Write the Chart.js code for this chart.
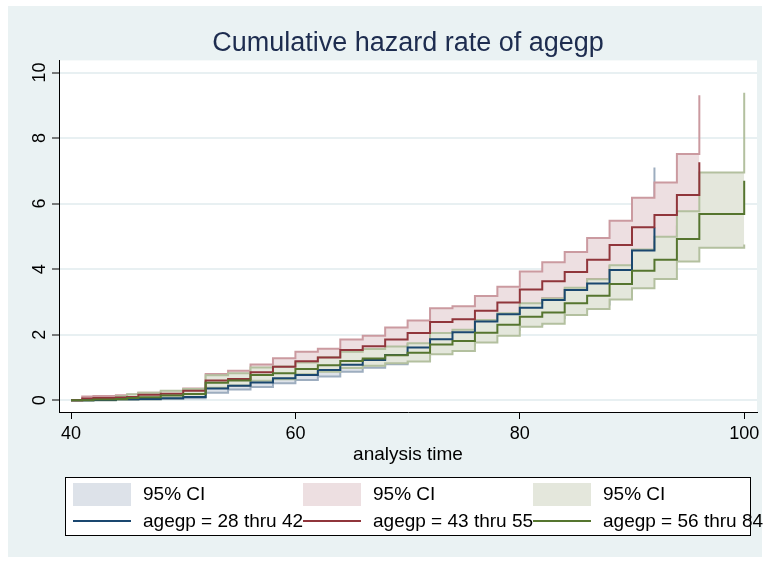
<!DOCTYPE html>
<html>
<head>
<meta charset="utf-8">
<script src="https://cdn.jsdelivr.net/npm/chart.js@4/dist/chart.umd.min.js"></script>
<style>
  html, body { margin: 0; padding: 0; background: #fff; }
  #wrap { width: 765px; height: 562px; }
</style>
</head>
<body>
<div id="wrap"><canvas id="hazChart" width="765" height="562"></canvas></div>
<script>
// Stata s2color look
// navy #1a476f / maroon #90353b / forest green #55752f

// analysis time (age) where the step functions change
const ages = [40, 41, 42, 44, 45, 46, 48, 50, 52, 54, 56, 58, 60, 62, 64, 66, 68, 70, 72, 74, 76, 78, 80, 82, 84, 86, 88, 90, 92, 94, 96, 100]

// agegp = 28 thru 42
const hazYoung = [0, 0, 0.01, 0.03, 0.03, 0.04, 0.06, 0.10, 0.36, 0.44, 0.54, 0.67, 0.77, 0.92, 1.08, 1.23, 1.38, 1.61, 1.86, 2.07, 2.40, 2.62, 2.82, 3.06, 3.36, 3.56, 3.97, 4.57, 5.27, null, null, null]
const loYoung  = [0, 0, 0, 0.01, 0.01, 0.02, 0.04, 0.06, 0.23, 0.33, 0.40, 0.52, 0.62, 0.72, 0.87, 0.99, 1.10, 1.30, 1.50, 1.68, 1.96, 2.15, 2.30, 2.50, 2.76, 2.92, 3.26, 3.75, 4.20, null, null, null]
const hiYoung  = [0, 0, 0.03, 0.07, 0.08, 0.10, 0.12, 0.17, 0.55, 0.62, 0.74, 0.88, 0.98, 1.16, 1.34, 1.52, 1.72, 1.98, 2.28, 2.52, 2.90, 3.15, 3.42, 3.72, 4.06, 4.30, 4.80, 5.50, 7.10, null, null, null]

// agegp = 43 thru 55
const hazMid = [0, 0.05, 0.07, 0.08, 0.10, 0.17, 0.20, 0.29, 0.60, 0.65, 0.85, 1.02, 1.19, 1.30, 1.53, 1.65, 1.85, 2.05, 2.39, 2.47, 2.73, 2.98, 3.38, 3.63, 3.91, 4.29, 4.74, 5.28, 5.65, 6.26, 7.26, null]
const loMid  = [0, 0.01, 0.02, 0.03, 0.04, 0.09, 0.11, 0.17, 0.40, 0.45, 0.62, 0.77, 0.93, 1.03, 1.24, 1.35, 1.53, 1.71, 2.00, 2.08, 2.32, 2.55, 2.90, 3.11, 3.37, 3.70, 4.09, 4.54, 4.82, 5.30, 5.80, null]
const hiMid  = [0, 0.11, 0.13, 0.15, 0.17, 0.23, 0.26, 0.36, 0.80, 0.90, 1.09, 1.28, 1.48, 1.57, 1.85, 1.97, 2.22, 2.43, 2.81, 2.87, 3.18, 3.46, 3.93, 4.21, 4.52, 4.95, 5.48, 6.18, 6.64, 7.51, 9.31, null]

// agegp = 56 thru 84
const hazOld = [0, 0, 0.02, 0.04, 0.07, 0.09, 0.14, 0.19, 0.53, 0.60, 0.77, 0.82, 0.95, 1.07, 1.20, 1.27, 1.37, 1.45, 1.70, 1.81, 2.06, 2.30, 2.55, 2.68, 2.96, 3.19, 3.55, 3.95, 4.29, 4.92, 5.68, 6.70]
const loOld  = [0, 0, 0, 0.01, 0.02, 0.03, 0.06, 0.10, 0.38, 0.45, 0.59, 0.64, 0.79, 0.87, 0.98, 1.05, 1.13, 1.18, 1.40, 1.50, 1.76, 1.97, 2.24, 2.33, 2.60, 2.78, 3.07, 3.42, 3.70, 4.23, 4.65, 4.75]
const hiOld  = [0, 0.01, 0.06, 0.12, 0.18, 0.23, 0.29, 0.34, 0.76, 0.82, 1.00, 1.03, 1.15, 1.31, 1.48, 1.56, 1.64, 1.74, 2.05, 2.15, 2.45, 2.65, 2.96, 3.10, 3.43, 3.69, 4.12, 4.60, 4.99, 5.77, 6.95, 9.38]

const groupLabels = [`agegp = 28 thru 42`, `agegp = 43 thru 55`, `agegp = 56 thru 84`]
const xTicks = [40, 60, 80, 100]
const yTicks = [0, 2, 4, 6, 8, 10]

const lineColors = [`#1a476f`, `#90353b`, `#55752f`]
const bandFills  = [`#dde2e9`, `#eddfe1`, `#e4e7dc`]
const bandEdges  = [`#9dadbf`, `#cb9aa0`, `#b3c09f`]

const FONT = `'Liberation Sans', Arial, sans-serif`

// step points, dropping the ages after a group runs out
const pts = arr => ages.map((a, i) => ({ x: a, y: arr[i] })).filter(p => p.y !== null)

const bandSet = (arr, g, fill) => ({
  label: `95% CI`,
  data: pts(arr),
  stepped: true,
  borderColor: bandEdges[g],
  backgroundColor: bandFills[g],
  borderWidth: 2,
  pointRadius: 0,
  fill: fill,
  order: 3 - g
})

const lineSet = (arr, g) => ({
  label: groupLabels[g],
  data: pts(arr),
  stepped: true,
  borderColor: lineColors[g],
  borderWidth: 2,
  pointRadius: 0,
  fill: false,
  order: 0
})

// background: white frame, bluish graph region, white plot region
const stataBg = {
  id: `stataBg`,
  beforeDraw(chart) {
    const { ctx, width, height, chartArea } = chart
    ctx.save()
    ctx.fillStyle = `#ffffff`
    ctx.fillRect(0, 0, width, height)
    ctx.fillStyle = `#eaf2f3`
    ctx.fillRect(8, 6, width - 11, height - 11)
    ctx.fillStyle = `#ffffff`
    ctx.fillRect(chartArea.left, chartArea.top, chartArea.right - chartArea.left, chartArea.bottom - chartArea.top)
    ctx.restore()
  }
}

// legend: 3 columns, CI swatches on top row, lines below
const stataLegend = {
  id: `stataLegend`,
  afterDraw(chart) {
    const { ctx, chartArea } = chart
    const left = chartArea.left + 6
    const top = chartArea.bottom + 65
    const w = 685, h = 58, colW = 230
    ctx.save()
    ctx.fillStyle = `#ffffff`
    ctx.fillRect(left, top, w, h)
    ctx.strokeStyle = `#000000`
    ctx.lineWidth = 1
    ctx.strokeRect(left + 0.5, top + 0.5, w, h)
    ctx.font = `19px ${FONT}`
    ctx.textBaseline = `middle`
    ctx.textAlign = `left`
    for (let g = 0; g < 3; g++) {
      const x0 = left + 8 + g * colW
      ctx.fillStyle = bandFills[g]
      ctx.fillRect(x0, top + 6, 58, 23)
      ctx.fillStyle = `#000000`
      ctx.fillText(`95% CI`, x0 + 70, top + 18)
    }
    for (let g = 0; g < 3; g++) {
      const x0 = left + 8 + g * colW
      ctx.strokeStyle = lineColors[g]
      ctx.lineWidth = 2
      ctx.beginPath()
      ctx.moveTo(x0, top + 44)
      ctx.lineTo(x0 + 58, top + 44)
      ctx.stroke()
      ctx.fillStyle = `#000000`
      ctx.fillText(groupLabels[g], x0 + 70, top + 45)
    }
    ctx.restore()
  }
}

let hazChart = new Chart(document.querySelector(`#hazChart`).getContext(`2d`), {
  type: `line`,
  data: {
    datasets: [
      bandSet(loYoung, 0, false), bandSet(hiYoung, 0, `-1`),
      bandSet(loMid, 1, false), bandSet(hiMid, 1, `-1`),
      bandSet(loOld, 2, false), bandSet(hiOld, 2, `-1`),
      lineSet(hazOld, 2), lineSet(hazMid, 1), lineSet(hazYoung, 0)
    ]
  },
  options: {
    responsive: false,
    animation: false,
    devicePixelRatio: 1,
    layout: { padding: { left: 8, right: 8, top: 6, bottom: 96 } },
    plugins: {
      legend: { display: false },
      tooltip: { enabled: false },
      title: {
        display: true,
        text: `Cumulative hazard rate of agegp`,
        fullSize: false,
        color: `#1d2c4f`,
        font: { family: FONT, size: 27, weight: `normal` },
        padding: { top: 21, bottom: 1 }
      }
    },
    scales: {
      x: {
        type: `linear`,
        min: 38.93,
        max: 101.14,
        afterBuildTicks: s => { s.ticks = xTicks.map(v => ({ value: v })) },
        afterFit: s => { s.height = 54 },
        grid: { drawOnChartArea: false, tickColor: `#000000`, tickLength: 7, tickWidth: 1 },
        border: { color: `#000000`, width: 1 },
        ticks: { color: `#000000`, font: { family: FONT, size: 18 }, padding: 4, maxRotation: 0 },
        title: { display: true, text: `analysis time`, color: `#000000`, font: { family: FONT, size: 19 }, padding: 0 }
      },
      y: {
        min: -0.36,
        max: 10.37,
        afterBuildTicks: s => { s.ticks = yTicks.map(v => ({ value: v })) },
        afterFit: s => { s.width = 51 },
        grid: { color: `#e8f0f2`, lineWidth: 2, tickColor: `#000000`, tickLength: 7, tickWidth: 1 },
        border: { color: `#000000`, width: 1 },
        ticks: { color: `#000000`, font: { family: FONT, size: 18 }, minRotation: 90, maxRotation: 90, crossAlign: `center`, padding: 2 }
      }
    }
  },
  plugins: [stataBg, stataLegend]
})
</script>
</body>
</html>
